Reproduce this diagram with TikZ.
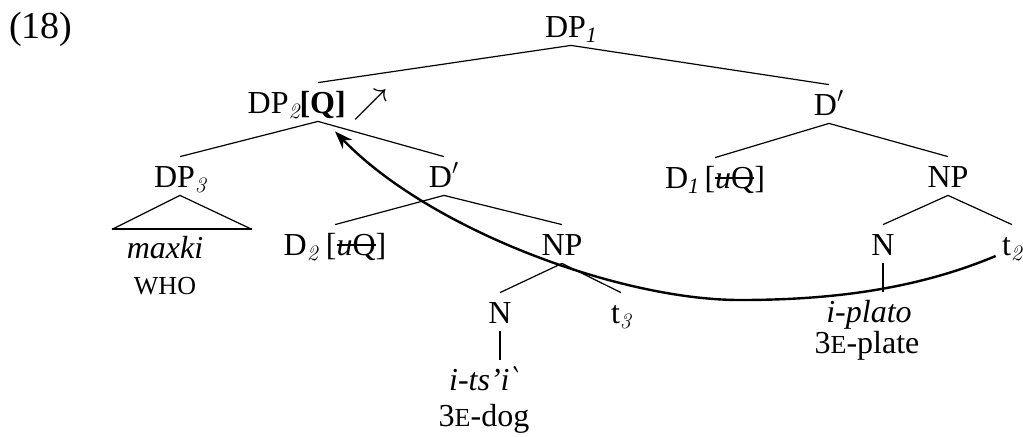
\documentclass[tikz,border=0pt]{standalone}
\usepackage{fontspec}
\setmainfont{Liberation Serif}
\usetikzlibrary{arrows.meta}
\newcommand\subI[1]{\raisebox{-2.5pt}{\fontsize{11}{11}\selectfont\itshape #1}}
\newcommand\subL[1]{\raisebox{-2.5pt}{\fontsize{11}{11}\usefont{TU}{lmr}{m}{it}#1}}
\newcommand\fsc[1]{{\fontsize{13}{13}\selectfont #1}}
\newcommand\strk[1]{\setbox0\hbox{#1}\rlap{\rule[4.5pt]{\wd0}{0.8pt}}\box0}
\newcommand\gravemark{{\kern-3pt\usefont{OT1}{cmr}{m}{it}\char18}}
\begin{document}
\begin{tikzpicture}[x=0.5pt,y=-0.5pt,
  every node/.style={font=\fontsize{16}{19}\selectfont},
  lbl/.style={anchor=base, inner xsep=0pt, inner ysep=2pt, text height=13pt, text depth=2pt},
  txt/.style={anchor=base, inner sep=0pt},
  branch/.style={line width=0.6pt},
  bar/.style={line width=1pt},
  move/.style={line width=1.2pt, -{Stealth[length=9pt,width=6.5pt]}}]
\useasboundingbox (0,0) rectangle (1023,436);

\node[txt, font=\fontsize{19}{22}\selectfont] (ex) at (41,38) {(18)};
\node[lbl] (dp1) at (571,37) {DP\subI{1}};
\node[lbl] (dp2) at (318,113) {DP\subL{2}\textbf{[Q]} $\nearrow$};
\node[lbl] (dbr) at (829,115) {D$'$};
\node[lbl] (dp3) at (180,187) {DP\subL{3}};
\node[lbl] (dbm) at (444,187) {D$'$};
\node[lbl] (d1) at (715,188) {D\subI{1}\,[\strk{\textit{u}Q}]};
\node[lbl] (npr) at (948,187) {NP};
\node[lbl] (d2) at (335,255) {D\subL{2} [\strk{\textit{u}Q}]};
\node[lbl] (npm) at (562,255) {NP};
\node[lbl] (nr) at (883,255) {N};
\node[lbl] (t2) at (1012,255) {t\subL{2}};
\node[lbl] (nm) at (500,323) {N};
\node[lbl] (t3) at (621,323) {t\subL{3}};
\node[lbl] (maxki) at (165,258) {\textit{maxki}};
\node[txt] (who) at (165,294) {\fsc{WHO}};
\node[lbl] (itsi) at (485,390) {\textit{i-ts’i}\gravemark};
\node[txt] (dog) at (484,426) {3\fsc{E}-dog};
\node[lbl] (plato) at (869,322) {\textit{i-plato}};
\node[txt] (plate) at (867,353) {3\fsc{E}-plate};

\draw[branch] (dp1.south) -- (dp2.north);
\draw[branch] (dp1.south) -- (dbr.north);
\draw[branch] (dp2.south) -- (dp3.north);
\draw[branch] (dp2.south) -- (dbm.north);
\draw[branch] (dbm.south) -- (d2.north);
\draw[branch] (dbm.south) -- (npm.north);
\draw[branch] (npm.south) -- (nm.north);
\draw[branch] (npm.south) -- (t3.north);
\draw[branch] (dbr.south) -- (d1.north);
\draw[branch] (dbr.south) -- (npr.north);
\draw[branch] (npr.south) -- (nr.north);
\draw[branch] (npr.south) -- (t2.north);
\draw[bar] (nm.south) -- (nm.south |- itsi.north);
\draw[bar] (nr.south) -- (nr.south |- plato.north);

\coordinate (trl) at ([shift={(-68,34)}]dp3.south);
\coordinate (trr) at ([shift={(72,34)}]dp3.south);
\draw[branch] (trl) -- (dp3.south) -- (trr);
\draw[bar] (trl) -- (trr);

\coordinate (mvstart) at ([shift={(-6,1)}]t2.base west);
\coordinate (mvlow) at (740,300);
\coordinate (mvend) at ([shift={(17,10)}]dp2.south);
\draw[move] (mvstart) .. controls (910,292) and (820,300) .. (mvlow)
  .. controls (620,300) and (430,230) .. (mvend);
\end{tikzpicture}
\end{document}
